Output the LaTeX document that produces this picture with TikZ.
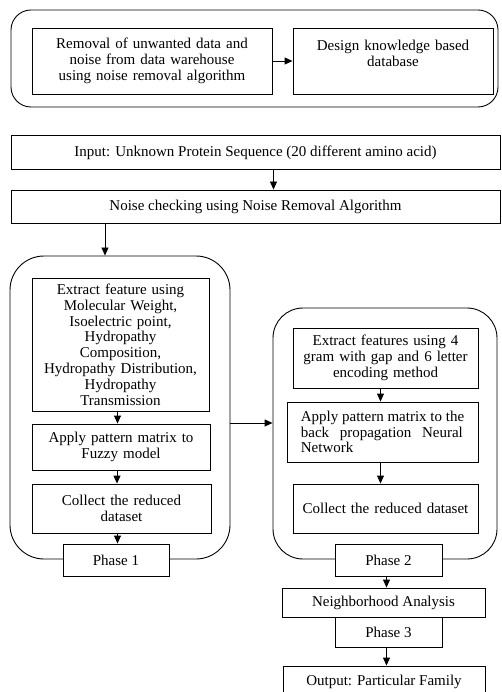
\documentclass[tikz,border=0pt]{standalone}
\usepackage{fontspec}
\setmainfont{Liberation Serif}
\usepackage{tikz}
\usetikzlibrary{arrows.meta}

\begin{document}
\begin{tikzpicture}[x=1pt,y=-1pt,
  font=\fontsize{15}{15.8}\selectfont,
  box/.style={draw, line width=0.9pt, fill=white, align=center, inner sep=0pt},
  frame/.style={draw, line width=0.9pt, rounded corners=#1, inner sep=0pt},
  arr/.style={line width=0.9pt, -{Triangle[length=8pt,width=7pt]}}]
\useasboundingbox (0,0) rectangle (501,692);
% preprocessing
\node [frame=20, minimum width=487, minimum height=97] (prep) at (254.5,58.5) {};
\node [box, text width=240, minimum height=66] (clean) at (152,61)
  {Removal of unwanted data and\\noise from data warehouse\\using noise removal algorithm};
\node [box, text width=200, minimum height=66] (kbase) at (393,61)
  {Design knowledge based\\database\\\mbox{}};
\draw [arr] (clean) -- (kbase);
% input and noise check
\node [box, minimum width=489, minimum height=34] (input) at (255.5,152.5)
  {Input: Unknown Protein Sequence (20 different amino acid)};
\node [box, minimum width=489, minimum height=33] (noise) at (255.5,206.5)
  {Noise checking using Noise Removal Algorithm};
\draw [arr] ([xshift=18]input.south) -- ([xshift=18]noise.south |- noise.north);
% phase 1
\node [frame=34, minimum width=220, minimum height=303] (ph1box) at (120,407.5) {};
\draw [arr] ([xshift=-15]ph1box.north |- noise.south) -- ([xshift=-15]ph1box.north);
\node [box, text width=177, minimum height=133] (feat1) at (120.5,344.5)
  {Extract feature using\\Molecular Weight,\\Isoelectric point,\\Hydropathy\\Composition,\\Hydropathy Distribution,\\Hydropathy\\Transmission};
\node [box, text width=178, minimum height=46] (fuzzy) at (121,447)
  {Apply pattern matrix to\\Fuzzy model};
\node [box, text width=179, minimum height=49] (red1) at (121.5,508.5)
  {Collect the reduced\\dataset};
\node [box, minimum width=106, minimum height=32] (phase1) at (116,560) {Phase 1};
\draw [arr] ([xshift=-3]feat1.south) -- ([xshift=-3]feat1.south |- fuzzy.north);
\draw [arr] ([xshift=-4]fuzzy.south) -- ([xshift=-4]fuzzy.south |- red1.north);
\draw [arr] ([xshift=-4]red1.south) -- ([xshift=-4]red1.south |- phase1.north);
% phase 2
\node [frame=30, minimum width=224, minimum height=251] (ph2box) at (385,433.5) {};
\coordinate (link) at (250,423);
\draw [arr] (ph1box.east |- link) -- (ph2box.west |- link);
\node [box, text width=185, minimum height=60] (feat2) at (385.5,358)
  {Extract features using 4\\gram with gap and 6 letter\\encoding method};
\node [box, minimum width=191, minimum height=60, align=left] (bpnn) at (382.5,432)
  {Apply pattern matrix to the\\\makebox[162pt][s]{back propagation Neural}\\Network};
\node [box, text width=185, minimum height=49] (red2) at (385.5,508.5)
  {Collect the reduced dataset};
\node [box, minimum width=107, minimum height=32] (phase2) at (388.5,560) {Phase 2};
\draw [arr] ([xshift=-5]feat2.south) -- ([xshift=-5]feat2.south |- bpnn.north);
\draw [arr] ([xshift=-5]red2.north |- bpnn.south) -- ([xshift=-5]red2.north);
% phase 3
\node [box, minimum width=203, minimum height=29] (neigh) at (383.5,602.5) {Neighborhood Analysis};
\node [box, minimum width=107, minimum height=30] (phase3) at (388.5,632) {Phase 3};
\node [box, minimum width=202, minimum height=32] (output) at (384,682) {Output: Particular Family};
\draw [arr] ([xshift=-2]phase2.south) -- ([xshift=-2]phase2.south |- neigh.north);
\draw [arr] ([xshift=-2]phase3.south) -- ([xshift=-2]phase3.south |- output.north);
\end{tikzpicture}
\end{document}
